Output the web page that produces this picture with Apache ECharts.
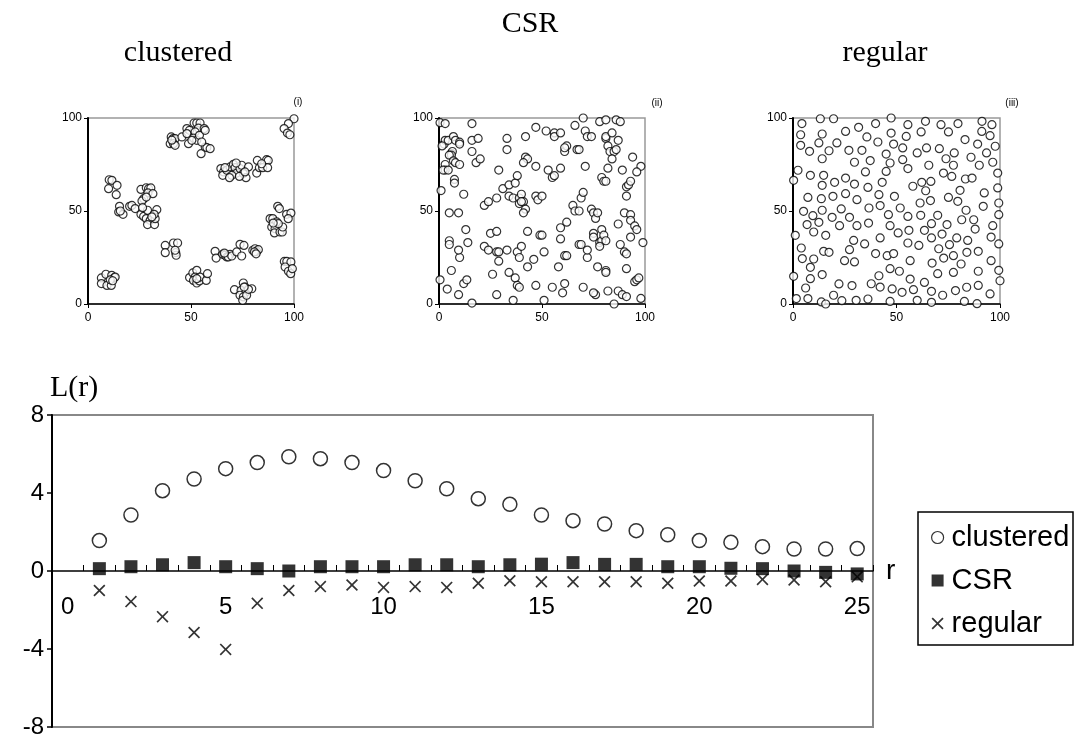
<!DOCTYPE html>
<html>
<head>
<meta charset="utf-8">
<script src="https://cdn.jsdelivr.net/npm/echarts@6/dist/echarts.min.js"></script>
<style>html,body{margin:0;padding:0;background:#fff;}#c{width:1075px;height:735px;}</style>
</head>
<body>
<div id="c"></div>
<script>
// ---- point patterns (x, y on 0..100) ----
const clusteredPts = [
 [6.5,14],[8.7,16],[11.5,15.4],[12.8,14.2],[6.5,11],[9.2,10],[11.3,10],[13.2,14.5],[10.8,13],[12,12.5],
 [10.3,66.8],[11.6,66.5],[14.1,63.8],[10,62],[13.7,58.8],[15.3,52.5],[14.9,49.5],[17,48.2],[15.7,50],
 [20.2,52.5],[21.3,53],[22.9,51.3],
 [25.7,61.6],[28.3,62.5],[29.4,62],[30.5,62.4],[29.1,59.7],[31.5,59.3],[27,56.6],[26.2,55.4],[28.3,57.5],
 [25.7,48.2],[27,47.1],[28.9,50.4],[28.3,45.9],[30.2,45],[28.9,42.7],[32.3,42.7],[32.6,45.9],[33.4,50.7],
 [32.1,48.2],[31,46.8],[26.5,51.8],
 [37.5,31.5],[37.5,27.6],[41.5,32.8],[43.5,32.8],[42.6,27.6],[42.8,26.2],[42.3,28.9],
 [40.4,89.8],[41.2,88.9],[42.3,88.9],[39.9,86.2],[41.5,86.2],[42.3,85.3],[40.7,88.1],
 [45.6,89.8],[48,94.3],[49.3,93.4],[48,91.6],[48.8,86.2],[51.5,97.3],[52.8,97.3],[54.4,97.3],[53.6,94.6],
 [52,92.5],[51.2,89.2],[52.8,88],[54.1,90.7],[56.4,94.3],[56.9,93.4],[54.9,80.8],[56.9,84.4],[57.7,84.1],
 [59.3,83.5],[55.2,87.1],[50.4,88],
 [64.5,72.8],[65.8,71],[65.4,69.2],[67.4,71.9],[69,73.7],[70.6,75.1],[71.4,73.3],[72.2,70.4],[69.8,69.2],
 [68.7,67.9],[73.8,72.8],[74.6,74.6],[75.4,70.1],[76.7,67.9],[77.9,73.7],[73.5,68.6],[66.5,73.3],[71.9,75.8],
 [76.2,71],
 [82.2,77.2],[81.9,70.4],[83.2,73.3],[84.8,73.3],[86.7,77.6],[87.5,77.2],[87.2,73.3],[84.3,75.4],
 [100,99.6],[97.3,97],[95.2,94.3],[96.8,91.9],[98,91],
 [92.1,52.5],[92.9,51.3],[88.4,45.9],[89.7,45.9],[91.6,44.1],[89.2,41.4],[90.8,40.5],[90.5,38.2],[93.2,38.7],
 [94.3,38.7],[96.4,48.2],[98.5,48.9],[97.2,45.9],[94.5,41.4],[92.4,43.2],[89.9,43.5],
 [95.3,22.9],[96.5,22.9],[98.5,22.6],[95.7,19.9],[97.3,17.6],[98.4,16.3],[99.2,19],
 [61.7,28.3],[62.2,24.7],[65.4,26.7],[66.5,26.2],[67.4,25.3],[69,26.7],[68.1,25.3],[69.8,25.8],[72.2,28],
 [73.8,32.1],[75.7,31.5],[74.6,25.8],[66.2,27.4],
 [80,28.9],[81.1,29.7],[81.9,28.3],[82.7,29.2],[80.8,28],[81.6,27],
 [71.1,7.7],[75.4,11.3],[76.2,9.1],[74.3,7.3],[76.7,6.5],[73.8,4.7],[75.4,3.8],[75.1,2],[77,4.7],[79.5,8.2],
 [77.9,7.9],[75.8,9.1],
 [49.3,14.2],[50.9,16.7],[52.8,18.1],[52,14.5],[51.2,12.7],[52.8,11.3],[54.1,12.4],[54.4,14.5],[57.4,12.7],
 [58,16.3],[52.8,13.6]
];
const csrPts = [
 [0.5,97.5],[3,97],[2.5,86],[3,88],[4.5,88],[7,90],[8,88],[10,87],[10,86],[1.5,85],
 [6,81],[6.5,82],[6,80],[5,80],[3,75],[3,72],[2,72],[4.5,72],[7,77],[8,76],[10,75],
 [1,61],[7.5,67],[7.5,65],[16,97],[16,88],[16,82],[18,76],[20,78],[19,89],[12,59],[5,49],[9.5,49],
 [0.5,13],[4,8],[6,18],[5,34],[5,32],[10,25],[9.5,29],[13,40],[14,33],[9.5,5],[12,11],[13.5,13],[16,0.5],
 [22,53],[24,55],[28,57],[29,72],[31,62],[34,64],[34,58],[37,65],[38,69],[36,57],[39,57],[40,59],[39,54],
 [41,55],[42,51],[41,49],[40,55],[33,89],[33,83],[42,90],[42,79],[43,78],[41,76],[47,95],[47,74],[47,58],
 [48,56],[50,58],[53,72],[55,68],[56,69],[52,93],[56,92],[56,90],[59,92],[59,73],
 [22,31],[24,29],[25,38],[28,28],[29,28],[29,23],[28,39],[26,16],[28,5],[33,29],[34,17],[36,2],[37,14],
 [38,10],[39,9],[38,28],[39,25],[40,31],[43,39],[43,20],[46,24],[47,10],[49,37],[50,37],[51,28],[51,2],
 [55,9],[58,20],[59,41],[59,35],[60,6],[61,11],[61,26],[62,26],[62,44],[61,82],[62,85],[61,84],[66,96],
 [67,83],[68,83],[70,100],[71,93],[72,90],[74,90],[71,74],[69,57],[70,60],[65,53],[66,50],[68,50],[68,32],
 [69,32],[70,9],[72,25],[72,29],[74,51],[75,49],[76,46],[77,49],[75,38],[75,36],[78,33],[79,34],[76,5],
 [75,6],[77,20],[78,98],[81,99],[81,89],[82,85],[81,90],[84,92],[83,82],[85,82],[84,78],[79,68],[80,66],
 [81,66],[82,73],[79,40],[80,37],[81,34],[78,31],[81,18],[81,17],[82,7],[85,0],[86,99],[88,98],[87,88],
 [86,83],[89,72],[91,63],[92,64],[91,58],[93,66],[90,49],[93,48],[93,45],[95,42],[96,40],[93,36],[87,43],
 [88,32],[90,28],[91,27],[91,19],[87,7],[89,5],[91,4],[95,12],[96,13],[97,14],[98,3],[99,33],[98,74],
 [96,71],[94,79]
];
const regularPts = [
 [13.2,99.6],[19.6,99.6],[47.4,100],[64,98.2],[91.3,98.2],[4.3,97],[55.5,96.4],[71.5,96.4],[79.7,97],
 [96.1,96.4],[39.9,97],
 [3.7,91],[14.1,91.4],[25.4,92.8],[31.7,95],[35.7,89.8],[41,87.1],[47.4,91.9],[54.7,90.1],[61.9,92.5],
 [75.1,92.5],[83.1,88.4],[91.2,92.8],[95.2,90.5],
 [3.7,85.3],[8,82.1],[12.5,86.6],[17.4,82.4],[21.2,86.6],[27,82.6],[33.3,82.6],[45,80.6],[48.6,86],[53,83.9],
 [60,81.2],[64.5,83.9],[70.7,83.5],[77.9,81.2],[86,78.9],[89.2,86],[93.5,81.2],[97.7,84.8],[14.1,78.1],
 [29.7,76.2],[37.3,77.1],[46.9,75.8],[53,77.6],[73.9,78.1],[77.5,74.6],[65.6,74.6],[90,74.6],[96.5,76.2],
 [2.4,71.9],[0.3,66.5],[8.4,69.2],[14.8,69.2],[14.1,63.8],[20.1,65.4],[25.4,67.7],[29.7,64.5],[35,71],
 [36.2,62.7],[43.1,65.4],[45,71.3],[55.5,72.8],[57.9,63.3],[62.2,65.4],[66.6,65.9],[64.1,60.9],[72.7,70.4],
 [76.7,68.6],[80.7,61.1],[83.3,67.2],[86.5,67.7],[92.4,59.7],[98.9,62.4],[98.9,70.4],
 [7.2,57.3],[13.7,56.6],[19.3,57.9],[25.4,59.3],[30.9,56.1],[41.5,58.8],[49,57.9],[42.1,52.9],[36.7,51.6],
 [51.8,51.6],[61.4,54.3],[66.4,55.6],[75.1,57.3],[79.6,55.2],[91.9,52.5],[99.4,54.3],[5.1,49.8],[14.1,50.4],
 [23.3,51.1],[9.6,47.5],[27.3,46.6],[46.1,48],[55.5,47.1],[61.7,47.7],[69.9,47.7],[83.6,50.4],[99.4,48],
 [6.8,42.7],[12.5,43.9],[18.9,46.6],[22.5,42.1],[30.9,42.1],[36.5,43.5],[46.9,42.1],[50.8,38.2],[56,39.6],
 [63.5,39.6],[66.9,43.2],[72,37.6],[74.4,42.7],[81.5,45.3],[87.3,45.3],[88,40.3],[96.5,42.1],[10,38.7],
 [15.8,36.9],[1.1,36.9],[42.1,35.5],[29.3,34.2],[34.6,32.3],[55.5,32.8],[60.8,31.5],[66.9,35.5],[75.6,31.9],
 [79.1,35.5],[84.4,34.2],[95.7,36],[99.4,32.3],
 [4,30.1],[4.5,24.4],[14.8,28.3],[17.4,27.8],[10,24.2],[8.4,19.7],[27.3,29.2],[24.9,23.3],[29.7,22.6],
 [39.9,27.1],[45.5,26],[48.6,27.1],[46.9,19],[51.4,17.6],[56.6,23.3],[67.2,22],[70.4,29.7],[72.8,24.7],
 [77.5,26],[81.2,21.5],[84,27.8],[89.5,28.3],[95.7,23.3],[99.4,18.1],[69.9,16.3],[77.5,17],[89.5,17.6],
 [14.1,15.8],[0.3,14.9],[8.4,13.6],
 [22.2,10.8],[28.5,9.9],[37.8,10.9],[41.5,15.2],[42.1,9.1],[47.9,8.1],[52.7,6.3],[56.6,13.4],[58.2,7.7],
 [63.5,11.6],[66.9,6.8],[72.3,4.7],[78.5,7.2],[83.9,9],[89.5,10],[95.2,5.4],[100,12.5],[1.6,2.9],[7.2,2.9],
 [6.1,8.6],[13.7,1.1],[15.8,0],[19.6,4.7],[23.6,1.8],[30.5,2],[36.2,2.7],[46.9,1.4],[60,2],[66.9,0.9],
 [82.8,1.4],[88.9,0.2]
];

// ---- L(r) chart ----
const rCategories = ['0','1','2','3','4','5','6','7','8','9','10','11','12','13','14','15','16','17','18','19','20','21','22','23','24','25'];
const rValues = [1,2,3,4,5,6,7,8,9,10,11,12,13,14,15,16,17,18,19,20,21,22,23,24,25];
const clusteredL = [1.56,2.87,4.12,4.72,5.25,5.56,5.86,5.76,5.56,5.15,4.63,4.22,3.71,3.42,2.87,2.58,2.41,2.07,1.86,1.56,1.47,1.25,1.13,1.13,1.15];
const csrL = [0.12,0.22,0.32,0.43,0.22,0.12,0.0,0.22,0.22,0.22,0.32,0.32,0.22,0.32,0.35,0.43,0.34,0.34,0.22,0.22,0.14,0.12,0.0,-0.07,-0.15];
const regularL = [-1.0,-1.57,-2.34,-3.15,-4.02,-1.66,-1.0,-0.8,-0.72,-0.84,-0.8,-0.84,-0.63,-0.5,-0.55,-0.55,-0.55,-0.55,-0.63,-0.51,-0.51,-0.43,-0.46,-0.55,-0.3];
const seriesNames = ['clustered','CSR','regular'];
const smallTicks = [0, 50, 100];
const lTicks = [-8, 4, 8];

const SANS = 'Liberation Sans, Arial, sans-serif';
const SERIF = 'Liberation Serif, Times New Roman, serif';
const X_PATH = 'path://M0,1L1,0L5,4L9,0L10,1L6,5L10,9L9,10L5,6L1,10L0,9L4,5Z';

const smallGrids = [
  {left: 88, top: 118, width: 206, height: 186},
  {left: 439, top: 118, width: 206, height: 186},
  {left: 793, top: 118, width: 207, height: 186}
];
const bigGrid = {left: 52, top: 415, width: 821, height: 312};
const grids = smallGrids.map(g => Object.assign({show: true, borderColor: '#999', borderWidth: 1.5, containLabel: false, outerBoundsMode: 'none'}, g));
grids.push(Object.assign({show: true, borderColor: '#888', borderWidth: 2, containLabel: false, outerBoundsMode: 'none'}, bigGrid));

const xAxes = [], yAxes = [];
for (let i = 0; i < 3; i++) {
  xAxes.push({gridIndex: i, type: 'value', min: smallTicks[0], max: smallTicks[2], interval: smallTicks[1],
    axisLine: {onZero: false, lineStyle: {color: '#000', width: 1.5}},
    axisTick: {show: true, length: 4, lineStyle: {color: '#000'}},
    axisLabel: {fontSize: 12, fontFamily: SANS, color: '#000', margin: 8},
    splitLine: {show: false}});
  yAxes.push({gridIndex: i, type: 'value', min: smallTicks[0], max: smallTicks[2], interval: smallTicks[1],
    axisLine: {onZero: false, lineStyle: {color: '#000', width: 2}},
    axisTick: {show: true, length: 4, lineStyle: {color: '#000'}},
    axisLabel: {fontSize: 12, fontFamily: SANS, color: '#000', margin: 6},
    splitLine: {show: false}});
}
// x axis of L(r) sits on the zero line: move the whole axis up by half the grid height (y range is symmetric)
xAxes.push({gridIndex: 3, type: 'category', data: rCategories, boundaryGap: true, position: 'bottom',
  offset: -bigGrid.height / 2,
  axisLine: {onZero: false, lineStyle: {color: '#000', width: 1.5}},
  axisTick: {show: true, inside: true, length: 6, interval: 0, lineStyle: {color: '#000', width: 1}},
  axisLabel: {interval: 4, fontSize: 24, fontFamily: SANS, color: '#000', margin: 24},
  name: 'r', nameLocation: 'end', nameGap: 13,
  nameTextStyle: {fontSize: 28, fontFamily: SANS, color: '#000', verticalAlign: 'middle', padding: [0,0,6,0]},
  splitLine: {show: false}});
yAxes.push({gridIndex: 3, type: 'value', min: lTicks[0], max: lTicks[2], interval: lTicks[1],
  axisLine: {show: true, onZero: false, lineStyle: {color: '#000', width: 2}},
  axisTick: {show: true, length: 5, lineStyle: {color: '#000', width: 1.5}},
  axisLabel: {fontSize: 24, fontFamily: SANS, color: '#000', margin: 8},
  name: 'L(r)', nameLocation: 'end', nameGap: 12,
  nameTextStyle: {fontSize: 30, fontFamily: SERIF, color: '#000', align: 'left', padding: [0,0,0,-2]},
  splitLine: {show: false}});

const ptStyle = {color: '#fff', borderColor: '#000', borderWidth: 1.2};
const series = [
  {type: 'scatter', xAxisIndex: 0, yAxisIndex: 0, symbol: 'circle', symbolSize: 8, itemStyle: ptStyle, data: clusteredPts, silent: true},
  {type: 'scatter', xAxisIndex: 1, yAxisIndex: 1, symbol: 'circle', symbolSize: 8, itemStyle: ptStyle, data: csrPts, silent: true},
  {type: 'scatter', xAxisIndex: 2, yAxisIndex: 2, symbol: 'circle', symbolSize: 8, itemStyle: ptStyle, data: regularPts, silent: true},
  {name: seriesNames[0], type: 'scatter', xAxisIndex: 3, yAxisIndex: 3, symbol: 'circle', symbolSize: 14,
    itemStyle: {color: '#fff', borderColor: '#000', borderWidth: 1.5}, data: rValues.map((r, i) => [r, clusteredL[i]]), z: 3},
  {name: seriesNames[1], type: 'scatter', xAxisIndex: 3, yAxisIndex: 3, symbol: 'rect', symbolSize: 13,
    itemStyle: {color: '#000'}, data: rValues.map((r, i) => [r, csrL[i]]), z: 3},
  {name: seriesNames[2], type: 'scatter', xAxisIndex: 3, yAxisIndex: 3, symbol: X_PATH, symbolSize: 12,
    itemStyle: {color: '#000'}, data: rValues.map((r, i) => [r, regularL[i]]), z: 4}
];

function txt(t, x, y, size, family, align) {
  return {type: 'text', x: x, y: y, silent: true,
    style: {text: t, fontSize: size, fontFamily: family, fill: '#000', align: align || 'center', verticalAlign: 'middle'}};
}

const option = {
  animation: false,
  backgroundColor: '#fff',
  grid: grids,
  xAxis: xAxes,
  yAxis: yAxes,
  legend: {
    data: [
      {name: seriesNames[0], icon: 'circle', itemStyle: {color: '#fff', borderColor: '#000', borderWidth: 1.2}},
      {name: seriesNames[1], icon: 'rect', itemStyle: {color: '#000'}},
      {name: seriesNames[2], icon: X_PATH, itemStyle: {color: '#000'}}
    ],
    orient: 'vertical', left: 926, top: 518, itemWidth: 12, itemHeight: 12, itemGap: 14,
    textStyle: {fontSize: 29, fontFamily: SANS, color: '#000', padding: [0,0,0,3]}, selectedMode: false
  },
  graphic: [
    txt('CSR', 530, 24, 30, SERIF),
    txt('clustered', 178, 53, 30, SERIF),
    txt('regular', 885, 53, 30, SERIF),
    txt('(i)', 298, 102, 10, SANS),
    txt('(ii)', 657, 103, 10, SANS),
    txt('(iii)', 1012, 103, 10, SANS),
    {type: 'rect', shape: {x: 918, y: 512, width: 155, height: 133}, silent: true,
      style: {fill: 'none', stroke: '#000', lineWidth: 1.5}}
  ],
  series: series
};

const chart = echarts.init(document.getElementById('c'), null, {renderer: 'canvas'});
chart.setOption(option);
</script>
</body>
</html>
